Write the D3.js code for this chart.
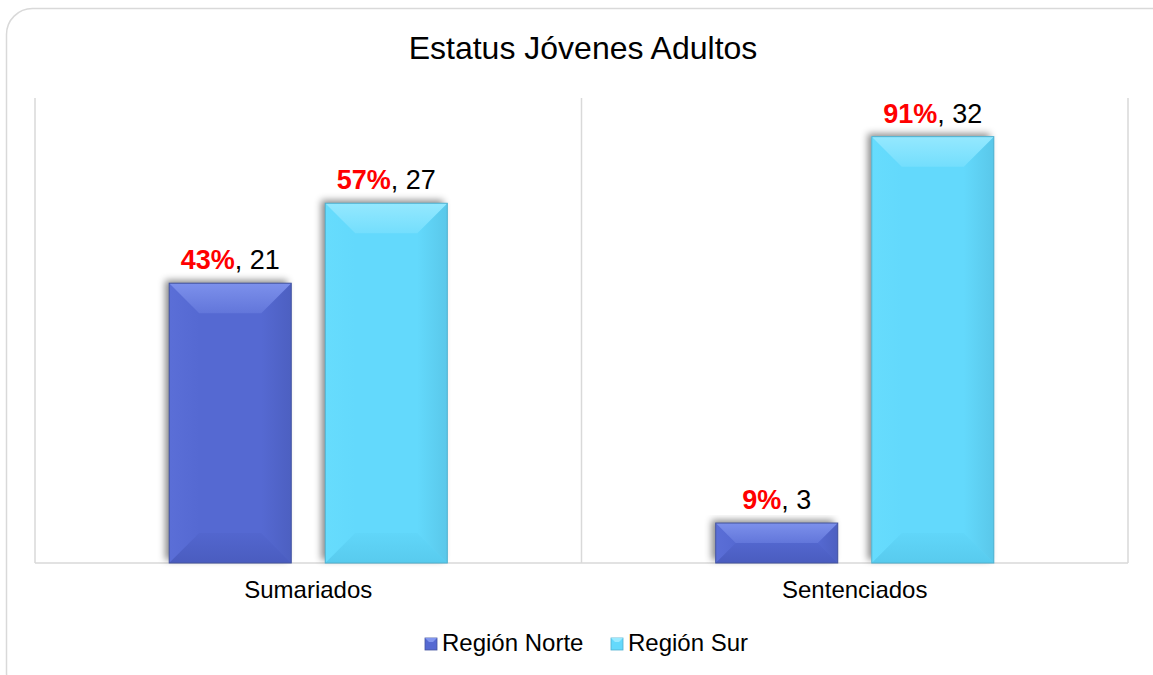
<!DOCTYPE html>
<html><head><meta charset="utf-8">
<script src="https://cdn.jsdelivr.net/npm/d3@7"></script>
<style>body{margin:0;background:#fff;}svg{display:block;font-family:"Liberation Sans",Arial,sans-serif;}</style>
</head><body>
<script>
const title = "Estatus Jóvenes Adultos";
const categories = ["Sumariados", "Sentenciados"];
const seriesNames = ["Región Norte", "Región Sur"];
const norteValues = [21, 3];
const surValues = [27, 32];
const nortePct = ["43%", "9%"];
const surPct = ["57%", "91%"];

const W = 1153, H = 675;
const svg = d3.select("body").append("svg").attr("width", W).attr("height", H);
const defs = svg.append("defs");

const palette = [
  {main:"#5569d2", top:"#8195ee", bottom:"#4152b0", left:"#6074dc", right:"#4658b3", stroke:"#44549e"},
  {main:"#64d9fc", top:"#9aeaff", bottom:"#4fbfe2", left:"#6adffd", right:"#52b9da", stroke:"#4fb0cf"}
];

const f = defs.append("filter").attr("id","shadow").attr("x","-20%").attr("y","-20%").attr("width","140%").attr("height","140%");
f.append("feDropShadow").attr("dx",-4).attr("dy",-3).attr("stdDeviation",3.5).attr("flood-color","#000").attr("flood-opacity",0.45);

palette.forEach((p,i)=>{
  const gt = defs.append("linearGradient").attr("id","gt"+i).attr("x1",0).attr("y1",0).attr("x2",0).attr("y2",1);
  gt.append("stop").attr("offset","0%").attr("stop-color",p.top).attr("stop-opacity",0.9);
  gt.append("stop").attr("offset","100%").attr("stop-color",p.top).attr("stop-opacity",0.3);
  const gb = defs.append("linearGradient").attr("id","gb"+i).attr("x1",0).attr("y1",1).attr("x2",0).attr("y2",0);
  gb.append("stop").attr("offset","0%").attr("stop-color",p.bottom).attr("stop-opacity",0.55);
  gb.append("stop").attr("offset","100%").attr("stop-color",p.bottom).attr("stop-opacity",0.12);
  const gl = defs.append("linearGradient").attr("id","gl"+i).attr("x1",0).attr("y1",0).attr("x2",1).attr("y2",0);
  gl.append("stop").attr("offset","0%").attr("stop-color",p.left).attr("stop-opacity",0.5);
  gl.append("stop").attr("offset","100%").attr("stop-color",p.left).attr("stop-opacity",0);
  const gr = defs.append("linearGradient").attr("id","gr"+i).attr("x1",1).attr("y1",0).attr("x2",0).attr("y2",0);
  gr.append("stop").attr("offset","0%").attr("stop-color",p.right).attr("stop-opacity",0.55);
  gr.append("stop").attr("offset","100%").attr("stop-color",p.right).attr("stop-opacity",0);
});

// outer frame
svg.append("rect").attr("x",6.5).attr("y",8.5).attr("width",1172).attr("height",690)
  .attr("rx",26).attr("fill","#fff").attr("stroke","#d9d9d9").attr("stroke-width",1.5);

svg.append("text").attr("x",583).attr("y",59).attr("text-anchor","middle")
  .attr("font-size",32).attr("fill","#000").text(title);

const plot = {left:35, right:1128, top:98, bottom:563};
const x0 = d3.scaleBand().domain(categories).range([plot.left, plot.right]).paddingInner(0).paddingOuter(0);
const x1 = d3.scaleBand().domain(seriesNames).range([0, x0.bandwidth()]).paddingInner(0.218).paddingOuter(0.86);
const y = d3.scaleLinear().domain([0, 34.9]).range([plot.bottom, plot.top]);

const g = svg.append("g");
const bounds = [plot.left, ...categories.map(c => x0(c) + x0.bandwidth())];
g.selectAll("line.v").data(bounds).join("line")
  .attr("x1", d=>d).attr("x2", d=>d).attr("y1", plot.top).attr("y2", plot.bottom)
  .attr("stroke","#d9d9d9").attr("stroke-width",1.5);
g.append("line").attr("x1",plot.left).attr("x2",plot.right).attr("y1",plot.bottom).attr("y2",plot.bottom)
  .attr("stroke","#d9d9d9").attr("stroke-width",1.5);

const data = [];
categories.forEach((c,i)=>{
  data.push({cat:c, s:0, v:norteValues[i], pct:nortePct[i]});
  data.push({cat:c, s:1, v:surValues[i], pct:surPct[i]});
});

function bevelBar(sel, d){
  const bx = x0(d.cat) + x1(seriesNames[d.s]);
  const bw = x1.bandwidth();
  const by = y(d.v), bh = y(0) - y(d.v);
  const p = palette[d.s];
  const b = Math.min(30, bh/2, bw/2);
  const grp = sel.append("g");
  grp.append("rect").attr("x",bx).attr("y",by).attr("width",bw).attr("height",bh)
    .attr("fill",p.main).attr("filter","url(#shadow)");
  const pts = a => a.map(q=>q.join(",")).join(" ");
  grp.append("polygon").attr("points",pts([[bx,by],[bx+b,by+b],[bx+b,by+bh-b],[bx,by+bh]])).attr("fill","url(#gl"+d.s+")");
  grp.append("polygon").attr("points",pts([[bx+bw,by],[bx+bw-b,by+b],[bx+bw-b,by+bh-b],[bx+bw,by+bh]])).attr("fill","url(#gr"+d.s+")");
  grp.append("polygon").attr("points",pts([[bx,by],[bx+bw,by],[bx+bw-b,by+b],[bx+b,by+b]])).attr("fill","url(#gt"+d.s+")");
  grp.append("polygon").attr("points",pts([[bx,by+bh],[bx+bw,by+bh],[bx+bw-b,by+bh-b],[bx+b,by+bh-b]])).attr("fill","url(#gb"+d.s+")");
  grp.append("rect").attr("x",bx).attr("y",by).attr("width",bw).attr("height",bh)
    .attr("fill","none").attr("stroke",p.stroke).attr("stroke-width",1);
  const t = sel.append("text").attr("x",bx+bw/2).attr("y",by-14).attr("text-anchor","middle").attr("font-size",27);
  t.append("tspan").attr("fill","#ff0000").attr("font-weight","bold").text(d.pct);
  t.append("tspan").attr("fill","#000").text(", " + d.v);
}
const bars = svg.append("g");
data.forEach(d=>bevelBar(bars,d));

svg.append("g").selectAll("text").data(categories).join("text")
  .attr("x", c=>x0(c)+x0.bandwidth()/2).attr("y",598).attr("text-anchor","middle")
  .attr("font-size",24).attr("fill","#000").text(c=>c);

const legend = svg.append("g");
const legX = [425, 611];
seriesNames.forEach((s,i)=>{
  const p = palette[i];
  const lg = legend.append("g");
  lg.append("rect").attr("x",legX[i]).attr("y",638).attr("width",12).attr("height",12).attr("fill",p.main).attr("stroke",p.stroke).attr("stroke-width",0.8);
  lg.append("polygon").attr("points",`${legX[i]},638 ${legX[i]+12},638 ${legX[i]+8},642 ${legX[i]+4},642`).attr("fill",p.top);
  lg.append("text").attr("x",legX[i]+17).attr("y",651).attr("font-size",24).attr("fill","#000").text(s);
});
</script>
</body></html>
